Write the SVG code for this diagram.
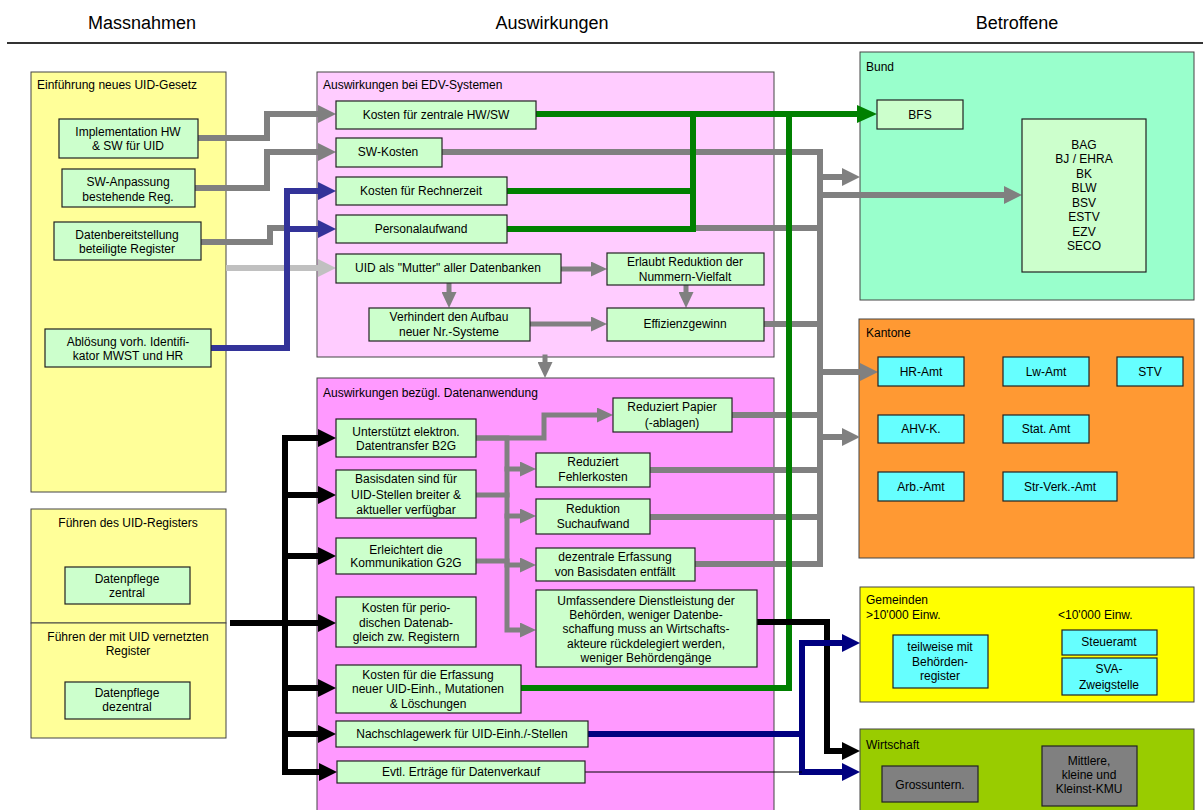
<svg xmlns="http://www.w3.org/2000/svg" width="1203" height="810" viewBox="0 0 1203 810">
<style>
text{font-family:"Liberation Sans",Arial,sans-serif;font-size:12px;fill:#000}
.h{font-size:18px}
.c{text-anchor:middle}
.cont{stroke:#444;stroke-width:1}
.nd{fill:#CCFFCC;stroke:#222;stroke-width:1.2}
.cy{fill:#66FFFF;stroke:#222;stroke-width:1.2}
.gr{fill:#808080;stroke:#222;stroke-width:1.2}
.l{fill:none;stroke-width:6;stroke-linecap:square;stroke-linejoin:miter}
.s{fill:none;stroke-width:5;stroke-linecap:square}
.g{stroke:#808080}.lg{stroke:#C0C0C0}.gn{stroke:#008000}.b{stroke:#333399}.nv{stroke:#000080}.k{stroke:#000}
</style>
<defs>
<marker id="aG" viewBox="0 0 18 18" markerWidth="18" markerHeight="18" refX="0" refY="9" orient="auto" markerUnits="userSpaceOnUse"><path d="M0,0L18,9L0,18z" fill="#808080"/></marker>
<marker id="aS" viewBox="0 0 16 15" markerWidth="16" markerHeight="15" refX="0" refY="7.5" orient="auto" markerUnits="userSpaceOnUse"><path d="M0,0L16,7.5L0,15z" fill="#808080"/></marker>
<marker id="aL" viewBox="0 0 18 18" markerWidth="18" markerHeight="18" refX="0" refY="9" orient="auto" markerUnits="userSpaceOnUse"><path d="M0,0L18,9L0,18z" fill="#C0C0C0"/></marker>
<marker id="aN" viewBox="0 0 20 18" markerWidth="20" markerHeight="18" refX="0" refY="9" orient="auto" markerUnits="userSpaceOnUse"><path d="M0,0L20,9L0,18z" fill="#008000"/></marker>
<marker id="aB" viewBox="0 0 18 18" markerWidth="18" markerHeight="18" refX="0" refY="9" orient="auto" markerUnits="userSpaceOnUse"><path d="M0,0L18,9L0,18z" fill="#333399"/></marker>
<marker id="aV" viewBox="0 0 18 18" markerWidth="18" markerHeight="18" refX="0" refY="9" orient="auto" markerUnits="userSpaceOnUse"><path d="M0,0L18,9L0,18z" fill="#000080"/></marker>
<marker id="aK" viewBox="0 0 18 18" markerWidth="18" markerHeight="18" refX="0" refY="9" orient="auto" markerUnits="userSpaceOnUse"><path d="M0,0L18,9L0,18z" fill="#000"/></marker>
</defs>
<rect width="1203" height="810" fill="#fff"/>
<g id="header">
<text class="h c" x="142" y="29">Massnahmen</text>
<text class="h c" x="552" y="29">Auswirkungen</text>
<text class="h c" x="1017" y="29">Betroffene</text>
<line x1="7" y1="43" x2="1203" y2="43" stroke="#333" stroke-width="2"/>
</g>
<!-- containers -->
<g id="c_gesetz"><rect class="cont" x="31" y="72" width="195" height="420" fill="#FFFF99"/><text x="37" y="89">Einführung neues UID-Gesetz</text></g>
<g id="c_register"><rect class="cont" x="31" y="509" width="195" height="114" fill="#FFFF99"/><text class="c" x="128" y="527">Führen des UID-Registers</text></g>
<g id="c_vernetzt"><rect class="cont" x="31" y="623" width="195" height="115" fill="#FFFF99"/><text class="c" x="128" y="641">Führen der mit UID vernetzten</text><text class="c" x="128" y="655">Register</text></g>
<g id="c_edv"><rect class="cont" x="317" y="72" width="457" height="285" fill="#FFCCFF"/><text x="323" y="89">Auswirkungen bei EDV-Systemen</text></g>
<g id="c_daten"><rect class="cont" x="317" y="378" width="457" height="440" fill="#FF99FF"/><text x="323" y="397">Auswirkungen bezügl. Datenanwendung</text></g>
<g id="c_bund"><rect class="cont" x="860" y="52" width="334" height="248" fill="#99FFCC"/><text x="866" y="71">Bund</text></g>
<g id="c_kantone"><rect class="cont" x="859" y="319" width="335" height="239" fill="#FF9933"/><text x="866" y="337">Kantone</text></g>
<g id="c_gemeinden"><rect class="cont" x="860" y="587" width="334" height="115" fill="#FFFF00"/><text x="866" y="604">Gemeinden</text><text x="866" y="619">&gt;10'000 Einw.</text><text x="1058" y="619">&lt;10'000 Einw.</text></g>
<g id="c_wirtschaft"><rect class="cont" x="860" y="729" width="334" height="100" fill="#99CC00"/><text x="866" y="749">Wirtschaft</text></g>
<!-- connectors -->
<g id="connectors">
<path class="l g" d="M198,138H267V114H318" marker-end="url(#aG)"/>
<path class="l g" d="M195,188H267V152H318" marker-end="url(#aG)"/>
<path class="l g" d="M201,242H270V228H287"/>
<path class="l lg" d="M229,268H318" marker-end="url(#aL)"/>
<path class="l b" d="M211,348H287V191H318" marker-end="url(#aB)"/>
<path class="l b" d="M287,229H318" marker-end="url(#aB)"/>
<path class="s g" d="M561,269H591" marker-end="url(#aS)"/>
<path class="s g" d="M449,283V292" marker-end="url(#aS)"/>
<path class="s g" d="M686,285V292" marker-end="url(#aS)"/>
<path class="s g" d="M530,324H591" marker-end="url(#aS)"/>
<path class="s g" d="M545,357V362" marker-end="url(#aS)"/>
<path class="l g" d="M442,152H820V564H695"/>
<path class="l g" d="M698,228H820"/>
<path class="l g" d="M764,324H820"/>
<path class="l g" d="M820,177H842" marker-end="url(#aG)"/>
<path class="l g" d="M820,195H1004" marker-end="url(#aG)"/>
<path class="l g" d="M820,372H860" marker-end="url(#aG)"/>
<path class="l g" d="M820,437H842" marker-end="url(#aG)"/>
<path class="l g" d="M732,415H820"/>
<path class="l g" d="M650,470H820"/>
<path class="l g" d="M650,517H820"/>
<path class="s g" d="M476,438H544V415H597" marker-end="url(#aS)"/>
<path class="s g" d="M476,438H507V630H520" marker-end="url(#aS)"/>
<path class="s g" d="M476,495H507"/>
<path class="s g" d="M476,561H507"/>
<path class="s g" d="M507,469H520" marker-end="url(#aS)"/>
<path class="s g" d="M507,516H520" marker-end="url(#aS)"/>
<path class="s g" d="M507,565H520" marker-end="url(#aS)"/>
<path class="l gn" d="M536,114H857" marker-end="url(#aN)"/>
<path class="l gn" d="M507,191H693"/>
<path class="l gn" d="M507,229H693V114"/>
<path class="l gn" d="M521,688H789V114"/>
<path class="l k" d="M233,623H318" marker-end="url(#aK)"/>
<path class="l k" d="M300,438H285V772H300"/>
<path class="l k" d="M285,438H318" marker-end="url(#aK)"/>
<path class="l k" d="M285,495H318" marker-end="url(#aK)"/>
<path class="l k" d="M285,556H318" marker-end="url(#aK)"/>
<path class="l k" d="M285,688H318" marker-end="url(#aK)"/>
<path class="l k" d="M285,734H318" marker-end="url(#aK)"/>
<path class="l k" d="M285,772H319" marker-end="url(#aK)"/>
<path class="l k" d="M757,622H827V751H842" marker-end="url(#aK)"/>
<path class="l nv" d="M588,734H802"/>
<path class="l nv" d="M802,643V772"/>
<path class="l nv" d="M802,643H842" marker-end="url(#aV)"/>
<path class="l nv" d="M802,772H842" marker-end="url(#aV)"/>
<path d="M585,772H802" stroke="#000" stroke-width="1" fill="none"/>
</g>
<!-- nodes -->
<g id="n_impl"><rect class="nd" x="59" y="119" width="139" height="39"/><text class="c" x="128" y="136">Implementation HW</text><text class="c" x="128" y="150">&amp; SW für UID</text></g>
<g id="n_swanp"><rect class="nd" x="62" y="169" width="133" height="38"/><text class="c" x="128" y="186">SW-Anpassung</text><text class="c" x="128" y="201">bestehende Reg.</text></g>
<g id="n_datenb"><rect class="nd" x="54" y="222" width="147" height="38"/><text class="c" x="127" y="239">Datenbereitstellung</text><text class="c" x="127" y="253">beteiligte Register</text></g>
<g id="n_abl"><rect class="nd" x="45" y="329" width="166" height="38"/><text class="c" x="128" y="346">Ablösung vorh. Identifi-</text><text class="c" x="128" y="360">kator MWST und HR</text></g>
<g id="n_dpz"><rect class="nd" x="65" y="567" width="125" height="37"/><text class="c" x="127" y="583">Datenpflege</text><text class="c" x="127" y="597">zentral</text></g>
<g id="n_dpd"><rect class="nd" x="65" y="682" width="125" height="37"/><text class="c" x="127" y="697">Datenpflege</text><text class="c" x="127" y="711">dezentral</text></g>
<g id="n_kzhw"><rect class="nd" x="336" y="101" width="200" height="28"/><text class="c" x="436" y="119">Kosten für zentrale HW/SW</text></g>
<g id="n_swk"><rect class="nd" x="336" y="138" width="106" height="29"/><text class="c" x="388" y="156">SW-Kosten</text></g>
<g id="n_krz"><rect class="nd" x="336" y="177" width="171" height="28"/><text class="c" x="421" y="195">Kosten für Rechnerzeit</text></g>
<g id="n_pers"><rect class="nd" x="336" y="215" width="171" height="28"/><text class="c" x="421" y="233">Personalaufwand</text></g>
<g id="n_mutter"><rect class="nd" x="336" y="254" width="225" height="29"/><text class="c" x="448" y="272">UID als "Mutter" aller Datenbanken</text></g>
<g id="n_erl"><rect class="nd" x="607" y="253" width="157" height="32"/><text class="c" x="685" y="266">Erlaubt Reduktion der</text><text class="c" x="685" y="281">Nummern-Vielfalt</text></g>
<g id="n_verh"><rect class="nd" x="369" y="308" width="161" height="33"/><text class="c" x="449" y="321">Verhindert den Aufbau</text><text class="c" x="449" y="336">neuer Nr.-Systeme</text></g>
<g id="n_eff"><rect class="nd" x="607" y="308" width="157" height="33"/><text class="c" x="685" y="328">Effizienzgewinn</text></g>
<g id="n_unt"><rect class="nd" x="336" y="419" width="140" height="38"/><text class="c" x="406" y="436">Unterstützt elektron.</text><text class="c" x="406" y="450">Datentransfer B2G</text></g>
<g id="n_basis"><rect class="nd" x="336" y="470" width="140" height="48"/><text class="c" x="406" y="483">Basisdaten sind für</text><text class="c" x="406" y="499">UID-Stellen breiter &amp;</text><text class="c" x="406" y="514">aktueller verfügbar</text></g>
<g id="n_erleicht"><rect class="nd" x="336" y="538" width="140" height="36"/><text class="c" x="406" y="554">Erleichtert die</text><text class="c" x="406" y="567">Kommunikation G2G</text></g>
<g id="n_perio"><rect class="nd" x="336" y="597" width="140" height="50"/><text class="c" x="406" y="612">Kosten für perio-</text><text class="c" x="406" y="627">dischen Datenab-</text><text class="c" x="406" y="641">gleich zw. Registern</text></g>
<g id="n_erf"><rect class="nd" x="336" y="665" width="185" height="48"/><text class="c" x="428" y="679">Kosten für die Erfassung</text><text class="c" x="428" y="693">neuer UID-Einh., Mutationen</text><text class="c" x="428" y="708">&amp; Löschungen</text></g>
<g id="n_nach"><rect class="nd" x="336" y="721" width="252" height="26"/><text class="c" x="462" y="738">Nachschlagewerk für UID-Einh./-Stellen</text></g>
<g id="n_evtl"><rect class="nd" x="337" y="761" width="248" height="22"/><text class="c" x="461" y="776">Evtl. Erträge für Datenverkauf</text></g>
<g id="n_papier"><rect class="nd" x="613" y="398" width="119" height="34"/><text class="c" x="672" y="411">Reduziert Papier</text><text class="c" x="672" y="427">(-ablagen)</text></g>
<g id="n_fehler"><rect class="nd" x="536" y="453" width="114" height="34"/><text class="c" x="593" y="466">Reduziert</text><text class="c" x="593" y="481">Fehlerkosten</text></g>
<g id="n_such"><rect class="nd" x="536" y="499" width="114" height="35"/><text class="c" x="593" y="513">Reduktion</text><text class="c" x="593" y="528">Suchaufwand</text></g>
<g id="n_dez"><rect class="nd" x="536" y="548" width="159" height="33"/><text class="c" x="615" y="561">dezentrale Erfassung</text><text class="c" x="615" y="576">von Basisdaten entfällt</text></g>
<g id="n_umf"><rect class="nd" x="536" y="590" width="221" height="77"/><text class="c" x="646" y="605">Umfassendere Dienstleistung der</text><text class="c" x="646" y="619">Behörden, weniger Datenbe-</text><text class="c" x="646" y="633">schaffung muss an Wirtschafts-</text><text class="c" x="646" y="648">akteure rückdelegiert werden,</text><text class="c" x="646" y="662">weniger Behördengänge</text></g>
<g id="n_bfs"><rect class="nd" x="877" y="100" width="86" height="29"/><text class="c" x="920" y="119">BFS</text></g>
<g id="n_bag"><rect class="nd" x="1022" y="119" width="124" height="153"/>
<text class="c" x="1084" y="149">BAG</text><text class="c" x="1084" y="163">BJ / EHRA</text><text class="c" x="1084" y="178">BK</text><text class="c" x="1084" y="192">BLW</text><text class="c" x="1084" y="207">BSV</text><text class="c" x="1084" y="221">ESTV</text><text class="c" x="1084" y="236">EZV</text><text class="c" x="1084" y="250">SECO</text></g>
<g id="n_hr"><rect class="cy" x="878" y="357" width="86" height="29"/><text class="c" x="921" y="376">HR-Amt</text></g>
<g id="n_lw"><rect class="cy" x="1003" y="357" width="86" height="29"/><text class="c" x="1046" y="376">Lw-Amt</text></g>
<g id="n_stv"><rect class="cy" x="1117" y="357" width="66" height="29"/><text class="c" x="1150" y="376">STV</text></g>
<g id="n_ahv"><rect class="cy" x="878" y="415" width="86" height="28"/><text class="c" x="921" y="433">AHV-K.</text></g>
<g id="n_stat"><rect class="cy" x="1003" y="415" width="86" height="28"/><text class="c" x="1046" y="433">Stat. Amt</text></g>
<g id="n_arb"><rect class="cy" x="878" y="472" width="86" height="29"/><text class="c" x="921" y="491">Arb.-Amt</text></g>
<g id="n_str"><rect class="cy" x="1003" y="472" width="114" height="29"/><text class="c" x="1060" y="491">Str-Verk.-Amt</text></g>
<g id="n_teil"><rect class="cy" x="893" y="635" width="95" height="53"/><text class="c" x="940" y="651">teilweise mit</text><text class="c" x="940" y="666">Behörden-</text><text class="c" x="940" y="680">register</text></g>
<g id="n_steuer"><rect class="cy" x="1062" y="630" width="95" height="25"/><text class="c" x="1109" y="646">Steueramt</text></g>
<g id="n_sva"><rect class="cy" x="1062" y="658" width="95" height="37"/><text class="c" x="1109" y="673">SVA-</text><text class="c" x="1109" y="689">Zweigstelle</text></g>
<g id="n_gross"><rect class="gr" x="882" y="766" width="96" height="36"/><text class="c" x="930" y="789">Grossuntern.</text></g>
<g id="n_kmu"><rect class="gr" x="1042" y="746" width="95" height="60"/><text class="c" x="1089" y="765">Mittlere,</text><text class="c" x="1089" y="779">kleine und</text><text class="c" x="1089" y="793">Kleinst-KMU</text></g>
</svg>
